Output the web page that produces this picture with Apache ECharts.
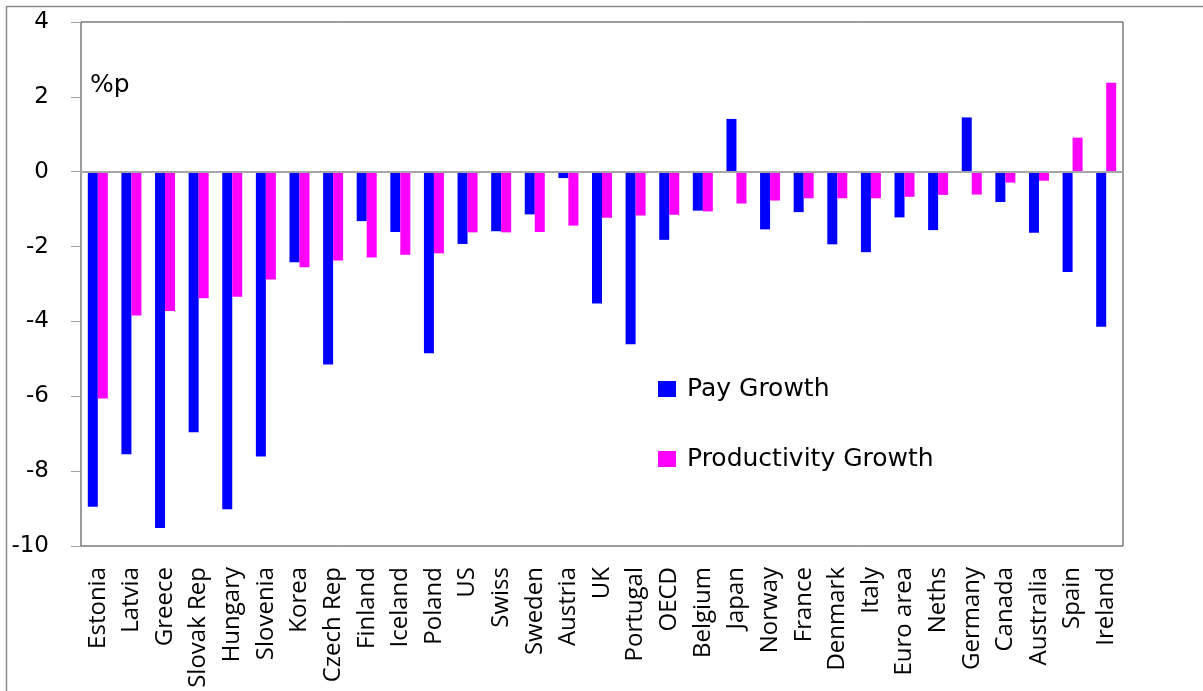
<!DOCTYPE html>
<html>
<head>
<meta charset="utf-8">
<title>Pay vs productivity growth</title>
<script src="https://cdn.jsdelivr.net/npm/echarts@6/dist/echarts.min.js"></script>
<style>
  html, body { margin: 0; padding: 0; background: #fff; }
  #chart { width: 1203px; height: 691px; }
</style>
</head>
<body>
<div id="chart"></div>
<script>
var countries = ["Estonia", "Latvia", "Greece", "Slovak Rep", "Hungary", "Slovenia", "Korea",
  "Czech Rep", "Finland", "Iceland", "Poland", "US", "Swiss", "Sweden", "Austria", "UK",
  "Portugal", "OECD", "Belgium", "Japan", "Norway", "France", "Denmark", "Italy", "Euro area",
  "Neths", "Germany", "Canada", "Australia", "Spain", "Ireland"];

var payGrowth = [-8.95, -7.55, -9.52, -6.96, -9.02, -7.61, -2.42, -5.15, -1.32, -1.61, -4.85,
  -1.93, -1.59, -1.14, -0.17, -3.52, -4.61, -1.82, -1.04, 1.41, -1.54, -1.08, -1.94, -2.15,
  -1.22, -1.56, 1.45, -0.81, -1.63, -2.68, -4.14];

var productivityGrowth = [-6.06, -3.84, -3.72, -3.38, -3.34, -2.88, -2.55, -2.37, -2.29, -2.22,
  -2.18, -1.62, -1.62, -1.61, -1.44, -1.23, -1.17, -1.15, -1.06, -0.85, -0.77, -0.71, -0.71,
  -0.71, -0.67, -0.62, -0.61, -0.29, -0.24, 0.91, 2.38];

var seriesNames = ["Pay Growth", "Productivity Growth"];
var unitLabel = "%p";

var myChart = echarts.init(document.getElementById("chart"));

var option = {
  backgroundColor: "#fff",
  animation: false,
  graphic: [
    {
      // outer frame, runs off the right and bottom edge
      type: "rect",
      left: 4,
      top: 4,
      shape: { width: 1300, height: 800 },
      style: { fill: "none", stroke: "#8c8c8c", lineWidth: 1.5 },
      silent: true
    },
    {
      type: "text",
      left: 90,
      top: 73,
      style: { text: unitLabel, fontSize: 25, fontFamily: "DejaVu Sans", fill: "#000" }
    }
  ],
  grid: {
    left: 81,
    right: 80,
    top: 22,
    bottom: 145,
    show: true,
    borderColor: "#3a3a3a",
    borderWidth: 1,
    containLabel: false
  },
  legend: {
    orient: "vertical",
    left: 658,
    top: 374,
    padding: 0,
    itemWidth: 18,
    itemHeight: 16,
    itemGap: 40,
    icon: "rect",
    data: seriesNames,
    textStyle: {
      fontSize: 25,
      fontFamily: "DejaVu Sans",
      color: "#000",
      lineHeight: 30,
      padding: [0, 0, 0, 6]
    }
  },
  xAxis: {
    type: "category",
    data: countries,
    axisLine: { show: false, onZero: false },
    axisTick: { show: false },
    axisLabel: {
      interval: 0,
      rotate: 90,
      margin: 21,
      fontSize: 24,
      fontFamily: "Open Sans",
      color: "#000"
    }
  },
  yAxis: {
    type: "value",
    min: -10,
    max: 4,
    interval: 2,
    axisLine: { show: false },
    axisTick: { show: true, length: 10, lineStyle: { color: "#a0a0a0" } },
    splitLine: { show: false },
    axisLabel: {
      margin: 32,
      fontSize: 23,
      fontFamily: "DejaVu Sans",
      color: "#000"
    }
  },
  series: [
    {
      name: seriesNames[0],
      type: "bar",
      data: payGrowth,
      barWidth: 10,
      barGap: "0%",
      itemStyle: { color: "#0000ff" },
      markLine: {
        silent: true,
        symbol: "none",
        label: { show: false },
        lineStyle: { color: "#a6a6a6", type: "solid", width: 2 },
        data: [{ yAxis: 0 }]
      }
    },
    {
      name: seriesNames[1],
      type: "bar",
      data: productivityGrowth,
      barWidth: 10,
      barGap: "0%",
      itemStyle: { color: "#ff00ff" }
    }
  ]
};

myChart.setOption(option);
</script>
</body>
</html>
